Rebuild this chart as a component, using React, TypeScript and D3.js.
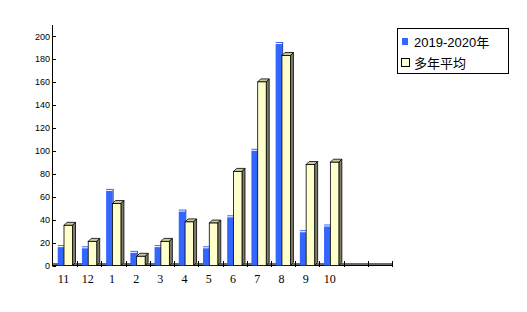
import React from "react";
import * as d3 from "d3";

const categories = ["11", "12", "1", "2", "3", "4", "5", "6", "7", "8", "9", "10"];
const series2019 = [16, 15, 65, 11, 16, 47, 15, 42, 100, 193, 29, 34];
const seriesAvg = [35, 21, 54, 8, 21, 38, 37, 82, 160, 183, 88, 90];
const yTicks = [0, 20, 40, 60, 80, 100, 120, 140, 160, 180, 200];
const legendLabels = ["2019-2020年", "多年平均"];
const slotCount = 14;

export default function App() {
  const W = 527, H = 312;
  const x0 = 53, x1 = 392, yTop = 25;
  const y = d3.scaleLinear().domain([0, 200]).range([265.5, 36]);
  const slot = d3.scaleLinear().domain([0, slotCount]).range([x0, x1]);
  const d = 3;
  const blue = "#3366ff";
  return (
    <svg width={W} height={H} style={{ position: "absolute", left: 0, top: 0 }}>
      <rect width={W} height={H} fill="#fff" />
      {/* y axis */}
      <line x1={x0 - 0.5} x2={x0 - 0.5} y1={yTop} y2={y(0) + 1} stroke="#000" />
      {yTicks.map(t => (
        <g key={t}>
          <line x1={x0} x2={x0 + 3} y1={Math.round(y(t)) + 0.5} y2={Math.round(y(t)) + 0.5} stroke="#000" />
          <text x={x0 - 3} y={y(t) + 3.5} textAnchor="end" fontSize={9} fontFamily="Liberation Sans, Arial" fill="#000">{t}</text>
        </g>
      ))}
      {/* floor */}
      <line x1={x0} x2={x1} y1={264} y2={264} stroke="#6a6a6a" strokeWidth={2} />
      <line x1={x0} x2={x1} y1={265.5} y2={265.5} stroke="#000" strokeWidth={1} />
      {d3.range(1, slotCount + 1).map(i => (
        <line key={i} x1={Math.round(slot(i)) + 0.5} x2={Math.round(slot(i)) + 0.5} y1={261} y2={267} stroke="#000" />
      ))}
      {categories.map((c, i) => {
        const s = slot(i);
        const bx = s + 4.7, bw = 6.5;
        const by = y(series2019[i]);
        const yx = s + 11, yw = 8.5;
        const yy = y(seriesAvg[i]);
        const base = y(0);
        return (
          <g key={c}>
            {/* blue bar (behind) */}
            <rect x={bx} y={by} width={bw} height={base - by} fill={blue} />
            <line x1={bx + bw + 0.5} x2={bx + bw + 0.5} y1={by - 2} y2={base} stroke="#1f3a9e" strokeWidth={1} />
            <line x1={bx} x2={bx + bw} y1={by - 1.5} y2={by - 1.5} stroke={blue} strokeWidth={1} />
            {/* yellow bar 3D */}
            <polygon points={`${yx},${yy} ${yx + d},${yy - d} ${yx + yw + d},${yy - d} ${yx + yw},${yy}`} fill="#c8c8a0" stroke="#000" strokeWidth={0.8} />
            <polygon points={`${yx + yw},${yy} ${yx + yw + d},${yy - d} ${yx + yw + d},${base - d} ${yx + yw},${base}`} fill="#7c7c68" stroke="#000" strokeWidth={0.8} />
            <rect x={yx} y={yy} width={yw} height={base - yy} fill="#ffffcc" stroke="#000" strokeWidth={0.8} />
            <text x={s + 10.5} y={283} textAnchor="middle" fontSize={12} fontFamily="Liberation Serif, Times New Roman" fill="#000">{c}</text>
          </g>
        );
      })}
      {/* legend */}
      <rect x={397.5} y={28.5} width={111} height={45} fill="#fff" stroke="#000" />
      <rect x={402} y={38} width={6} height={7} fill={blue} />
      <text x={414} y={47} fontSize={13} fontFamily="Liberation Sans, Noto Sans CJK SC" fill="#000">{legendLabels[0]}</text>
      <rect x={401.5} y={58.5} width={8} height={8} fill="#ffffcc" stroke="#000" />
      <text x={414} y={68} fontSize={13} fontFamily="Noto Sans CJK SC" fill="#000">{legendLabels[1]}</text>
    </svg>
  );
}
